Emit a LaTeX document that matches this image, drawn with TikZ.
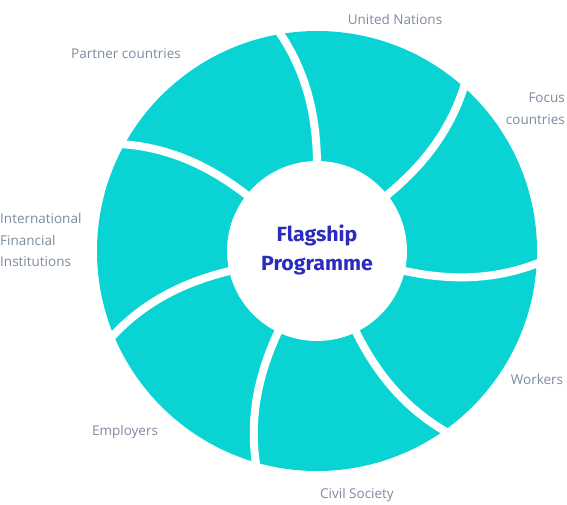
\documentclass[tikz,border=0pt]{standalone}
\usepackage{fontspec}
\setmainfont{Open Sans}
\newfontfamily\titlefont[FakeStretch=1.04]{Fira Sans}
\definecolor{ringteal}{HTML}{0AD3D3}
\definecolor{labelgrey}{HTML}{7D8B9D}
\definecolor{titleblue}{HTML}{2B2BBF}
\begin{document}
\begin{tikzpicture}[x=1pt,y=1pt,
  lbl/.style={font=\fontsize{13.5}{21.5}\selectfont, text=labelgrey, inner sep=0pt},
  sep/.style={draw=white, line width=8pt}]
\useasboundingbox (-317,251) rectangle (250,-253);
\fill[ringteal] (0,0) circle (220);
\fill[white] (0,0) circle (90);
\foreach \k in {0,...,6}{
  \pgfmathsetmacro{\a}{90-51.4286*\k}
  \draw[sep] (\a:85) .. controls (\a:140) and (\a+4:185) .. (\a+10.5:228);
}
\node[font=\titlefont\bfseries\fontsize{20.5}{29}\selectfont, text=titleblue, align=center] (title) at (0,1) {Flagship\\Programme};
\node[lbl] (un) at (78,232) {United Nations};
\node[lbl] (partner) at (-191,197) {Partner countries};
\node[lbl, anchor=east, align=right] (focus) at (248,142.5) {Focus\\countries};
\node[lbl, anchor=west, align=left] (ifi) at (-317,11) {International\\Financial\\Institutions};
\node[lbl] (workers) at (220,-128) {Workers};
\node[lbl] (employers) at (-192,-181) {Employers};
\node[lbl] (civil) at (40,-244) {Civil Society};
\end{tikzpicture}
\end{document}
